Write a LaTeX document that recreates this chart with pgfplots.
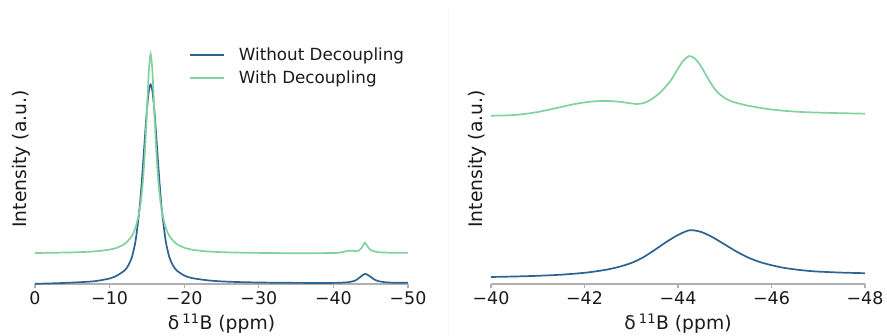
\documentclass[border=0pt]{standalone}
\usepackage{pgfplots}
\pgfplotsset{compat=1.18}
\usepackage{fontspec}
\setmainfont{DejaVu Sans}
\definecolor{cblue}{HTML}{2C6393}
\definecolor{cgreen}{HTML}{82D1A0}
\definecolor{spine}{HTML}{B0B0B0}
\definecolor{txt}{HTML}{1A1A1A}
\pgfplotsset{
  base/.style={
    scale only axis, height=274bp, ymin=0, ymax=274, x dir=reverse,
    axis x line*=bottom, axis y line*=left,
    y axis line style={draw=none}, ytick=\empty,
    x axis line style={spine, line width=1.1bp},
    xtick style={spine, line width=1.1bp},
    tick align=outside, major tick length=4bp,
    tick label style={font=\fontsize{17.5}{21}\selectfont, text=txt},
    every axis y label/.style={at={(axis description cs:0,0.456)}, rotate=90, anchor=center, yshift=14bp,
      font=\fontsize{18.8}{22}\selectfont, text=txt},
    xlabel style={font=\fontsize{18.8}{22}\selectfont, text=txt, yshift=-2bp},
    xlabel={δ\,\textsuperscript{11}B (ppm)},
    ylabel={Intensity (a.u.)},
    clip=false,
  },
  curve/.style={line width=1.7bp, smooth, tension=0.45},
}
\begin{document}
\begin{tikzpicture}
\useasboundingbox (0,0) rectangle (887bp,336bp);
\draw[black!4, line width=1bp] (448bp,0bp) -- (448bp,326bp);
\begin{axis}[base, at={(35bp,52bp)}, anchor=south west, width=373bp,
  xmin=-50, xmax=0, xtick={0,-10,-20,-30,-40,-50},
  xticklabels={0,−10,−20,−30,−40,−50},
  legend style={draw=none, fill=none, inner sep=0pt, column sep=14bp, row sep=9bp,
    at={(axis description cs:0.413,0.862)}, anchor=north west,
    nodes={inner sep=0pt}, font=\fontsize{16.8}{20}\selectfont, text=txt},
  legend cell align=left,
  legend image code/.code={\draw[#1] (0bp,0bp) -- (34bp,0bp);},
]
\addplot[curve, cblue] coordinates {
(0,0.2) (-3,0.8) (-6,1.8) (-8,2.8) (-10,5.5) (-11,8.5) (-12,13.5) (-12.5,18.5) (-13,27) (-13.5,44) (-14,74.5) (-14.25,96) (-14.5,121.5) (-14.75,148.5) (-15,173.8) (-15.25,192.5) (-15.5,199.5) (-15.75,192.5) (-16,173.8) (-16.25,148.5) (-16.5,121.5) (-16.75,96) (-17,74.5) (-17.5,44) (-18,27) (-18.5,18.5) (-19,13.5) (-20,8.5) (-21,6.0) (-23,3.8) (-25,2.6) (-28,1.8) (-32,1.3) (-36,1.1) (-40,1.1) (-41,1.3) (-42,1.8) (-42.5,2.5) (-43,3.7) (-43.5,6.4) (-44,9.3) (-44.25,10.0) (-44.5,9.6) (-45,7.1) (-45.5,4.4) (-46,2.9) (-47,1.7) (-48,1.3) (-50,1.2)
};
\addlegendentry{Without Decoupling}
\addplot[curve, cgreen] coordinates {
(0,31.0) (-5,31.6) (-8,32.6) (-10,34.4) (-11,36.3) (-12,39.9) (-12.5,43.5) (-13,48.2) (-13.5,56.8) (-14,72.9) (-14.25,86.4) (-14.5,105.9) (-14.75,134.1) (-15,171.9) (-15.25,211.4) (-15.5,230) (-15.75,211.4) (-16,171.9) (-16.25,134.1) (-16.5,105.9) (-16.75,86.4) (-17,72.9) (-17.5,56.8) (-18,48.2) (-18.5,43.5) (-19,39.9) (-20,36.3) (-21,34.4) (-23,32.6) (-26,31.6) (-30,31.1) (-35,30.8) (-40,31.0) (-41,31.6) (-41.5,32.4) (-42,33.2) (-42.5,33.3) (-43,32.8) (-43.25,32.9) (-43.5,34.0) (-43.8,36.3) (-44,39.1) (-44.24,41.3) (-44.5,38.7) (-44.75,35.7) (-45,33.9) (-45.5,32.6) (-46,31.9) (-47,31.4) (-48,31.3) (-50,31.2)
};
\addlegendentry{With Decoupling}
\end{axis}
\begin{axis}[base, at={(491bp,52bp)}, anchor=south west, width=374bp,
  xmin=-48, xmax=-40, xtick={-40,-42,-44,-46,-48},
  xticklabels={−40,−42,−44,−46,−48},
]
\addplot[curve, cblue] coordinates {
(-40,7.0) (-40.5,7.5) (-41,8.2) (-41.5,9.3) (-42,11.2) (-42.25,12.7) (-42.5,14.6) (-42.75,17.3) (-43,21.0) (-43.25,26.5) (-43.5,34.0) (-43.75,42.0) (-44,49.0) (-44.25,53.8) (-44.5,52.0) (-44.75,46.5) (-45,39.5) (-45.25,32.5) (-45.5,26.5) (-45.75,22.0) (-46,18.8) (-46.25,16.3) (-46.5,14.6) (-46.75,13.3) (-47,12.4) (-47.5,11.4) (-48,10.8)
};
\addplot[curve, cgreen] coordinates {
(-40,168.3) (-40.25,168.5) (-40.5,169.0) (-40.75,170.2) (-41,172.0) (-41.25,174.4) (-41.5,177.0) (-41.75,179.6) (-42,181.6) (-42.25,182.8) (-42.5,183.0) (-42.75,182.2) (-43,180.6) (-43.12,180.0) (-43.25,180.8) (-43.38,183.2) (-43.5,187.0) (-43.62,191.5) (-43.75,198.0) (-43.88,206.0) (-44,215.5) (-44.12,223.5) (-44.24,228.0) (-44.36,225.5) (-44.48,218.5) (-44.6,209.0) (-44.72,199.5) (-44.85,191.5) (-45,186.0) (-45.15,182.5) (-45.3,180.5) (-45.5,178.3) (-45.75,176.2) (-46,174.5) (-46.25,173.3) (-46.5,172.4) (-46.75,171.8) (-47,171.4) (-47.5,170.8) (-48,170.3)
};
\end{axis}
\end{tikzpicture}
\end{document}
